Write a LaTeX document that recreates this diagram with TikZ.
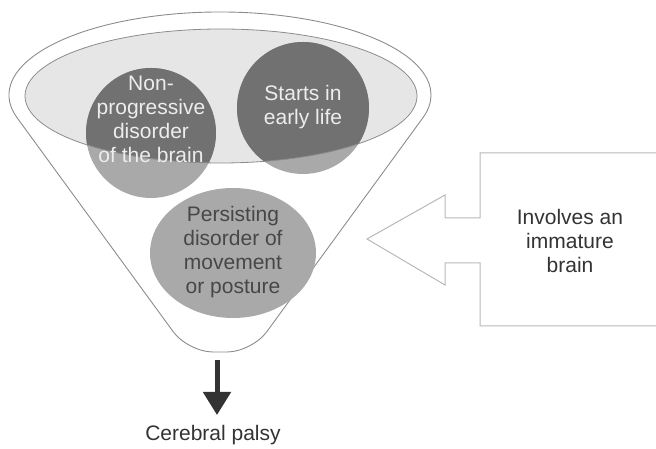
\documentclass[tikz,border=0pt]{standalone}
\usepackage{fontspec}
\setmainfont{Liberation Sans}
\usetikzlibrary{calc}
\usetikzlibrary{arrows.meta}

\definecolor{rimgray}{HTML}{8C8C8C}
\definecolor{lidgray}{HTML}{E6E6E6}
\definecolor{darkdisc}{HTML}{717171}
\definecolor{litedisc}{HTML}{A9A9A9}
\definecolor{blockgray}{HTML}{B8B8B8}
\definecolor{inkgray}{HTML}{333333}
\definecolor{paletext}{HTML}{EDEDED}

\tikzset{
  funnel/.style={draw=rimgray, line width=0.9pt},
  lid/.style={draw=rimgray, line width=0.8pt},
  label/.style={align=center, font=\fontsize{21}{24}\selectfont, inner sep=0pt},
  inblock/.style={draw=blockgray, line width=1pt}
}

\begin{document}
\begin{tikzpicture}[x=1pt, y=1pt]
    \useasboundingbox (0,0) rectangle (656,449);

    \coordinate (outc) at (220,354);
    \coordinate (inc) at (221,353);
    \coordinate (lt) at ($(outc)+(196:211 and 83)$);
    \coordinate (rt) at ($(outc)+(-16:211 and 83)$);
    \coordinate (lb) at (188,97);
    \coordinate (rb) at (252,97);
    \coordinate (npc) at (151,316);
    \coordinate (elc) at (303,341);
    \coordinate (psc) at (233,196);
    \coordinate (B0) at (660,296);
    \coordinate (B1) at (480,296);
    \coordinate (B2) at (480,231);
    \coordinate (B3) at (445,231);
    \coordinate (B4) at (445,254);
    \coordinate (B5) at (367,210);
    \coordinate (B6) at (445,164);
    \coordinate (B7) at (445,186);
    \coordinate (B8) at (480,186);
    \coordinate (B9) at (480,123);
    \coordinate (B10) at (660,123);
    \coordinate (spout) at (217,89);
    \coordinate (tip) at (217,34);

    \draw [funnel](lt) arc[start angle=196, end angle=-16, x radius=211, y radius=83];
    \draw [funnel, rounded corners=25pt](rt) -- (rb) -- (lb) -- (lt);
    \fill [lidgray](inc) ellipse [x radius=196, y radius=67];

    \fill [litedisc](npc) circle (65);
    \fill [litedisc](elc) circle (66);
    \begin{scope}
      \clip (inc) ellipse [x radius=196, y radius=67];
      \fill [darkdisc](npc) circle (65);
      \fill [darkdisc](elc) circle (66);
    \end{scope}
    \draw [lid](inc) ellipse [x radius=196, y radius=67];
    \fill [litedisc](psc) ellipse [x radius=83, y radius=65];

    \draw [inblock](B0) -- (B1) -- (B2) -- (B3) -- (B4) -- (B5) -- (B6) -- (B7) -- (B8) -- (B9) -- (B10);

    \draw [inkgray, line width=5pt, -{Triangle[width=27pt, length=23pt]}](spout) -- (tip);

    \node [label, text=paletext] (nonprog) at (151,330) {Non-\\progressive\\disorder\\of the brain};
    \node [label, text=paletext] (early) at (303,342) {Starts in\\early life};
    \node [label, text=inkgray!90] (persist) at (233,197) {Persisting\\disorder of\\movement\\or posture};
    \node [label, text=inkgray] (immature) at (570,208) {Involves an\\immature\\brain};
    \node [label, text=inkgray] (palsy) at (213,14) {Cerebral palsy};

  \end{tikzpicture}
\end{document}
